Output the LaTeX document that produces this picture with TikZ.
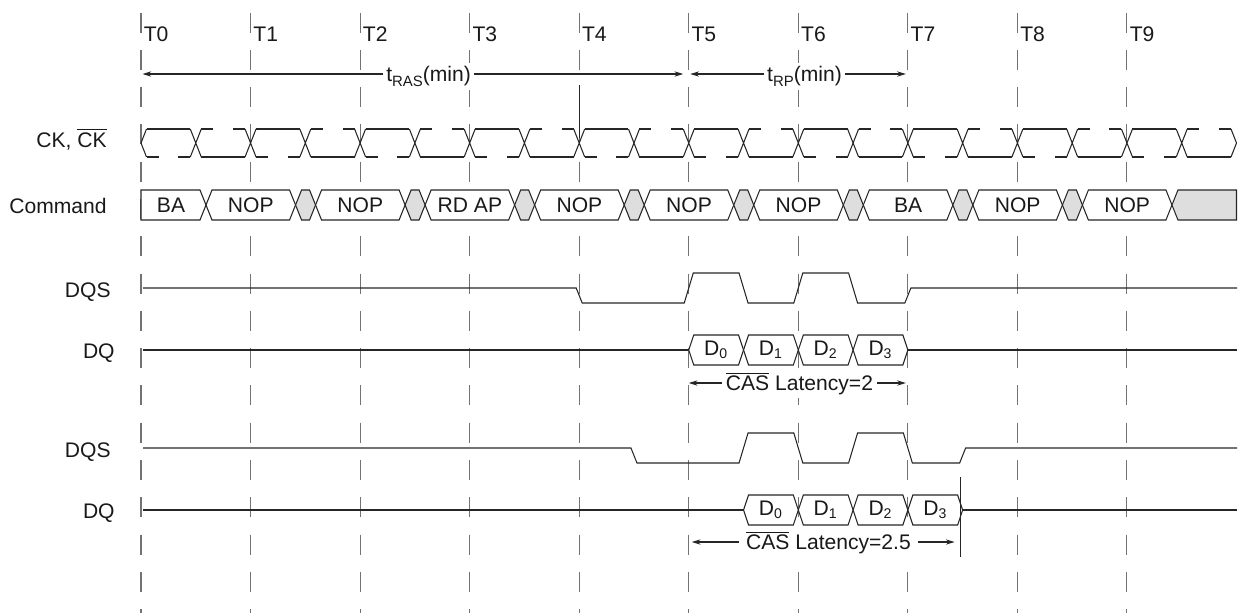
\documentclass[tikz,border=0pt]{standalone}
\usepackage{fontspec}
\setmainfont{Liberation Sans}
\usetikzlibrary{arrows.meta, calc}

\newcommand{\lowsub}[1]{\raisebox{-2.8pt}{\fontsize{8.5}{10}\selectfont #1}}

\begin{document}
\begin{tikzpicture}[
        x=0.02cm, y=-0.02cm,
        font=\fontsize{12}{14}\selectfont,
        declare function={tt(\n)=141+109.55*\n;},
        tick/.style={black!55, line width=0.6pt, dash pattern=on 0.4cm off 0.346cm},
        wave/.style={black!85, line width=0.6pt},
        bus/.style={wave, fill=white},
        dontcare/.style={wave, fill=black!13},
        span/.style={wave, <->, >={Stealth[length=5pt, width=3pt]}},
        spanlabel/.style={fill=white, inner sep=2pt, anchor=base, yshift=-4.3pt, text=black!90},
        sig/.style={anchor=base east, inner sep=0pt, text=black!90},
        tlabel/.style={anchor=base west, inner sep=0pt, text=black!90},
        busword/.style={inner sep=0pt, text=black!90},
    ]
    \useasboundingbox (0,0) rectangle (1239,613);

    % Clock edges T0 ... T9 - dashed guide lines and labels
    \foreach \n in {0,...,9} {
        \draw [tick] ({tt(\n)},12.5) -- ({tt(\n)},613);
        \node (t\n) [tlabel] at ({tt(\n)+2.5},41.7) {T\n};
    }

    % Signal names
    \node (cklabel) [sig] at (107,147) {CK, $\overline{\mbox{CK}}$};
    \node (cmdlabel) [sig] at (107,213) {Command};
    \node (dqsa) [sig] at (111,297.5) {DQS};
    \node (dqa) [sig] at (115,358) {DQ};
    \node (dqsb) [sig] at (111,457.5) {DQS};
    \node (dqb) [sig] at (115,518) {DQ};

    % tRAS and tRP spans
    \coordinate (ras-a) at ({tt(0)+1.5},74);
    \coordinate (ras-b) at ({tt(5)-5.5},74);
    \coordinate (rp-a) at ({tt(5)+1.5},74);
    \coordinate (rp-b) at ({tt(7)-2},74);
    \draw [span] (ras-a) -- node [spanlabel, pos=0.529] {t\lowsub{RAS}(min)} (ras-b);
    \draw [span] (rp-a) -- node [spanlabel, pos=0.53] {t\lowsub{RP}(min)} (rp-b);
    \draw [wave] ({tt(4)},85) -- ({tt(4)},138);

    % Clock - CK solid, CK# with short dashes
    \foreach \k in {0,...,19} {
        \pgfmathsetmacro\hi{129+28*mod(\k,2)}
        \pgfmathsetmacro\lo{157-28*mod(\k,2)}
        \draw [wave] ({tt(\k/2)+5.5},\hi) -- ({tt(\k/2+0.5)-5.5},\hi);
        \draw [wave] ({tt(\k/2)+5.5},\lo) -- ++(12,0)
                     ({tt(\k/2+0.5)-5.5},\lo) -- ++(-12,0);
    }
    \foreach \k in {1,...,19}
        \draw [wave] ({tt(\k/2)-5.5},129) -- ({tt(\k/2)+5.5},157)
                     ({tt(\k/2)-5.5},157) -- ({tt(\k/2)+5.5},129);
    \draw [wave] ({tt(0)+5.5},129) -- ({tt(0)},143) -- ({tt(0)+5.5},157);
    \draw [wave] ({tt(10)-5.5},129) -- ({tt(10)},143) -- ({tt(10)-5.5},157);

    % Command bus
    \draw [bus] ({tt(0)},190) -- ({tt(0)+59},190) -- ({tt(0)+65},205) -- ({tt(0)+59},220) -- ({tt(0)},220) -- cycle;
    \node (cmd0) [busword] at (171,205) {BA};
    \foreach \n/\word in {1/NOP, 2/NOP, 3/RD AP, 4/NOP, 5/NOP, 6/NOP, 7/BA, 8/NOP, 9/NOP} {
        \draw [bus] ({tt(\n-1)+65},205) -- ({tt(\n-1)+71},190) -- ({tt(\n)+39},190) -- ({tt(\n)+45},205)
                    -- ({tt(\n)+39},220) -- ({tt(\n-1)+71},220) -- cycle;
        \node (cmd\n) [busword] at ({tt(\n-0.5)+55},205) {\word};
    }
    \foreach \n in {1,...,8}
        \draw [dontcare] ({tt(\n)+45},205) -- ({tt(\n)+51},190) -- ({tt(\n)+59},190) -- ({tt(\n)+65},205)
                         -- ({tt(\n)+59},220) -- ({tt(\n)+51},220) -- cycle;
    \draw [dontcare] ({tt(9)+45},205) -- ({tt(9)+51},190) -- ({tt(10)},190) -- ({tt(10)},220) -- ({tt(9)+51},220) -- cycle;

    % CAS latency = 2
    \draw [wave] (143,288) -- ({tt(4)-3},288) -- ({tt(4)+3},303) -- ({tt(5)-4.5},303) -- ({tt(5)+4.5},273)
        -- ({tt(5.5)-4.5},273) -- ({tt(5.5)+4.5},303) -- ({tt(6)-4.5},303) -- ({tt(6)+4.5},273)
        -- ({tt(6.5)-4.5},273) -- ({tt(6.5)+4.5},303) -- ({tt(7)-3},303) -- ({tt(7)+3},288) -- (1237,288);
    \draw [wave] (143,350) -- ({tt(5)},350);
    \draw [wave] ({tt(7)},350) -- (1237,350);
    \foreach \j in {0,...,3} {
        \draw [bus] ({tt(5+\j/2)},350) -- ({tt(5+\j/2)+5},335) -- ({tt(5.5+\j/2)-5},335) -- ({tt(5.5+\j/2)},350)
                    -- ({tt(5.5+\j/2)-5},365) -- ({tt(5+\j/2)+5},365) -- cycle;
        \node (da\j) [busword] at ({tt(5.25+\j/2)},350) {D\textsubscript{\j}};
    }
    \coordinate (cl2-a) at ({tt(5)},383);
    \coordinate (cl2-b) at ({tt(7)-2},383);
    \draw [span] (cl2-a) -- node [spanlabel, pos=0.51] {$\overline{\mbox{CAS}}$ Latency=2} (cl2-b);

    % CAS latency = 2.5
    \draw [wave] (143,448) -- ({tt(4.5)-3},448) -- ({tt(4.5)+3},463) -- ({tt(5.5)-4.5},463) -- ({tt(5.5)+4.5},433)
        -- ({tt(6)-4.5},433) -- ({tt(6)+4.5},463) -- ({tt(6.5)-4.5},463) -- ({tt(6.5)+4.5},433)
        -- ({tt(7)-4.5},433) -- ({tt(7)+4.5},463) -- ({tt(7.5)-3},463) -- ({tt(7.5)+3},448) -- (1237,448);
    \draw [wave] (143,510) -- ({tt(5.5)},510);
    \draw [wave] ({tt(7.5)},510) -- (1237,510);
    \foreach \j in {0,...,3} {
        \draw [bus] ({tt(5.5+\j/2)},510) -- ({tt(5.5+\j/2)+5},495) -- ({tt(6+\j/2)-5},495) -- ({tt(6+\j/2)},510)
                    -- ({tt(6+\j/2)-5},525) -- ({tt(5.5+\j/2)+5},525) -- cycle;
        \node (db\j) [busword] at ({tt(5.75+\j/2)},510) {D\textsubscript{\j}};
    }
    \coordinate (mark-top) at ({tt(7.5)-2},477);
    \coordinate (mark-bot) at ({tt(7.5)-2},557);
    \draw [wave] (mark-top) -- (mark-bot);
    \coordinate (cl25-a) at ({tt(5)+3},542);
    \coordinate (cl25-b) at ({tt(7.5)-8},542);
    \draw [span] (cl25-a) -- node [spanlabel, pos=0.52, inner xsep=4pt] {$\overline{\mbox{CAS}}$ Latency=2.5} (cl25-b);
\end{tikzpicture}
\end{document}
